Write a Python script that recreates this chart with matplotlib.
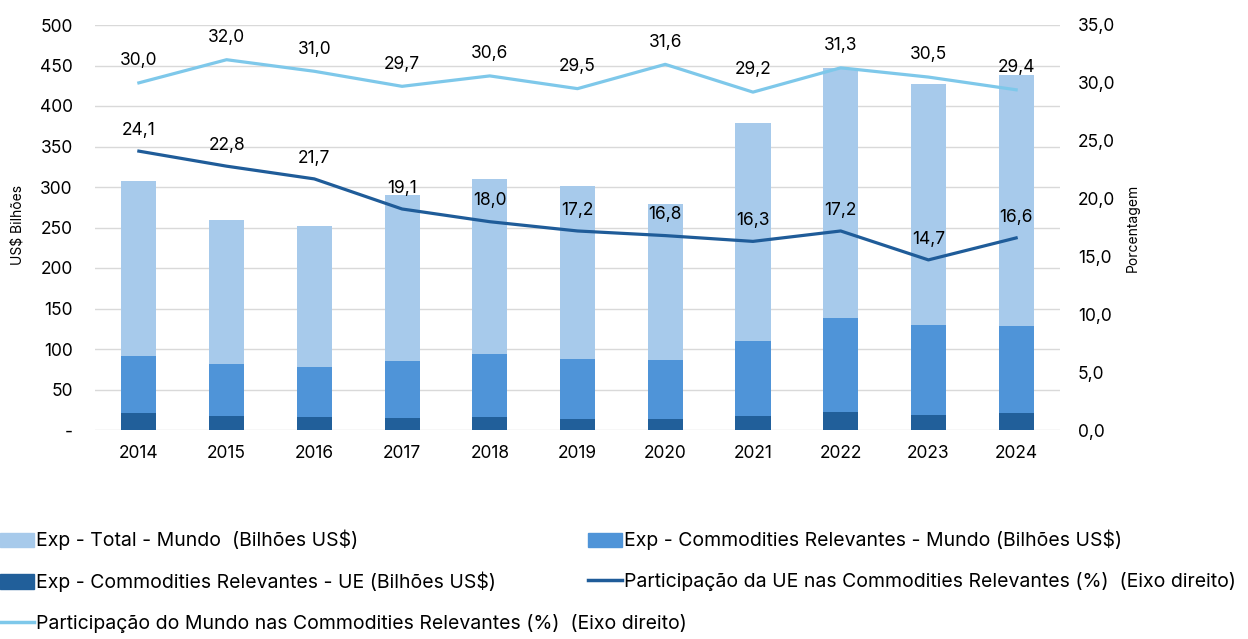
import matplotlib
matplotlib.use('Agg')
import matplotlib.pyplot as plt
from matplotlib.patches import Patch
from matplotlib.lines import Line2D
import numpy as np

plt.rcParams['font.family'] = ['Inter', 'DejaVu Sans']

# ---- data ----
years = ['2014', '2015', '2016', '2017', '2018', '2019', '2020', '2021', '2022', '2023', '2024']
exp_total_mundo = [307, 259, 252, 290, 310, 301, 279, 379, 447, 427, 438]
exp_comm_mundo = [91, 81, 78, 85, 94, 88, 87, 110, 138, 130, 128]
exp_comm_ue = [21, 17, 16.5, 15, 16.5, 14, 14, 17, 22.5, 18.5, 20.5]
part_ue = [24.1, 22.8, 21.7, 19.1, 18.0, 17.2, 16.8, 16.3, 17.2, 14.7, 16.6]
part_mundo = [30.0, 32.0, 31.0, 29.7, 30.6, 29.5, 31.6, 29.2, 31.3, 30.5, 29.4]

left_ticks = [0, 50, 100, 150, 200, 250, 300, 350, 400, 450, 500]
left_ticklabels = ['-'] + [str(v) for v in left_ticks[1:]]
right_ticks = [0, 5, 10, 15, 20, 25, 30, 35]

# ---- colours ----
c_total = '#A7CAEB'
c_comm = '#4F94D8'
c_ue = '#215F9A'
c_line_ue = '#1F5C99'
c_line_mundo = '#7EC8EA'
c_grid = '#D9D9D9'

W, H = 1248, 639
fig = plt.figure(figsize=(W / 100, H / 100), dpi=100)
ax = fig.add_axes([95 / W, 1 - 430 / H, 965 / W, 405 / H])
ax2 = ax.twinx()

x = np.arange(len(years))
bw = 0.4
ax.bar(x, exp_total_mundo, width=bw, color=c_total, zorder=2)
ax.bar(x, exp_comm_mundo, width=bw, color=c_comm, zorder=3)
ax.bar(x, exp_comm_ue, width=bw, color=c_ue, zorder=4)

ax.set_xlim(-0.5, len(years) - 0.5)
ax.set_ylim(0, 500)
ax.set_yticks(left_ticks)
ax.set_yticklabels(left_ticklabels)
ax.set_xticks(x)
ax.set_xticklabels(years)
ax.grid(axis='y', color=c_grid, linewidth=1, zorder=0)
ax.set_axisbelow(True)
ax.tick_params(axis='y', length=0, pad=16, labelsize=12.5)
ax.tick_params(axis='x', length=0, pad=11, labelsize=12.5)

ax2.plot(x, part_ue, color=c_line_ue, linewidth=2.3, zorder=5)
ax2.plot(x, part_mundo, color=c_line_mundo, linewidth=2.3, zorder=5)
for xi, v in zip(x, part_ue):
    ax2.annotate(f'{v:.1f}'.replace('.', ','), (xi, v), xytext=(0, 15),
                 textcoords='offset points', ha='center', va='center', fontsize=12.5)
for xi, v in zip(x, part_mundo):
    ax2.annotate(f'{v:.1f}'.replace('.', ','), (xi, v), xytext=(0, 16),
                 textcoords='offset points', ha='center', va='center', fontsize=12.5)
ax2.set_ylim(0, 35)
ax2.set_yticks(right_ticks)
ax2.set_yticklabels([f'{v:.1f}'.replace('.', ',') for v in right_ticks])
ax2.tick_params(axis='y', length=0, pad=13, labelsize=12.5)

for a in (ax, ax2):
    for s in a.spines.values():
        s.set_visible(False)

fig.text(18 / W, 1 - 225 / H, 'US$ Bilhões', rotation=90, ha='center', va='center', fontsize=10)
fig.text(1133 / W, 1 - 228 / H, 'Porcentagem', rotation=90, ha='center', va='center', fontsize=10)

# ---- legend, two hand-placed columns ----
h_total = Patch(color=c_total, label='Exp - Total - Mundo  (Bilhões US$)')
h_comm = Patch(color=c_comm, label='Exp - Commodities Relevantes - Mundo (Bilhões US$)')
h_ue = Patch(color=c_ue, label='Exp - Commodities Relevantes - UE (Bilhões US$)')
h_pue = Line2D([], [], color=c_line_ue, linewidth=2.5,
               label='Participação da UE nas Commodities Relevantes (%)  (Eixo direito)')
h_pm = Line2D([], [], color=c_line_mundo, linewidth=2.5,
              label='Participação do Mundo nas Commodities Relevantes (%)  (Eixo direito)')

leg_kw = dict(loc='upper left', frameon=False, fontsize=14, borderaxespad=0, borderpad=0,
              handlelength=1.75, handleheight=0.75, handletextpad=0.1, labelspacing=1.1)
fig.legend(handles=[h_total, h_ue, h_pm], bbox_to_anchor=(0, 1 - 530 / H), **leg_kw)
fig.legend(handles=[h_comm, h_pue], bbox_to_anchor=(588 / W, 1 - 530 / H), **leg_kw)

fig.savefig('out.png', dpi=100)
plt.close(fig)
